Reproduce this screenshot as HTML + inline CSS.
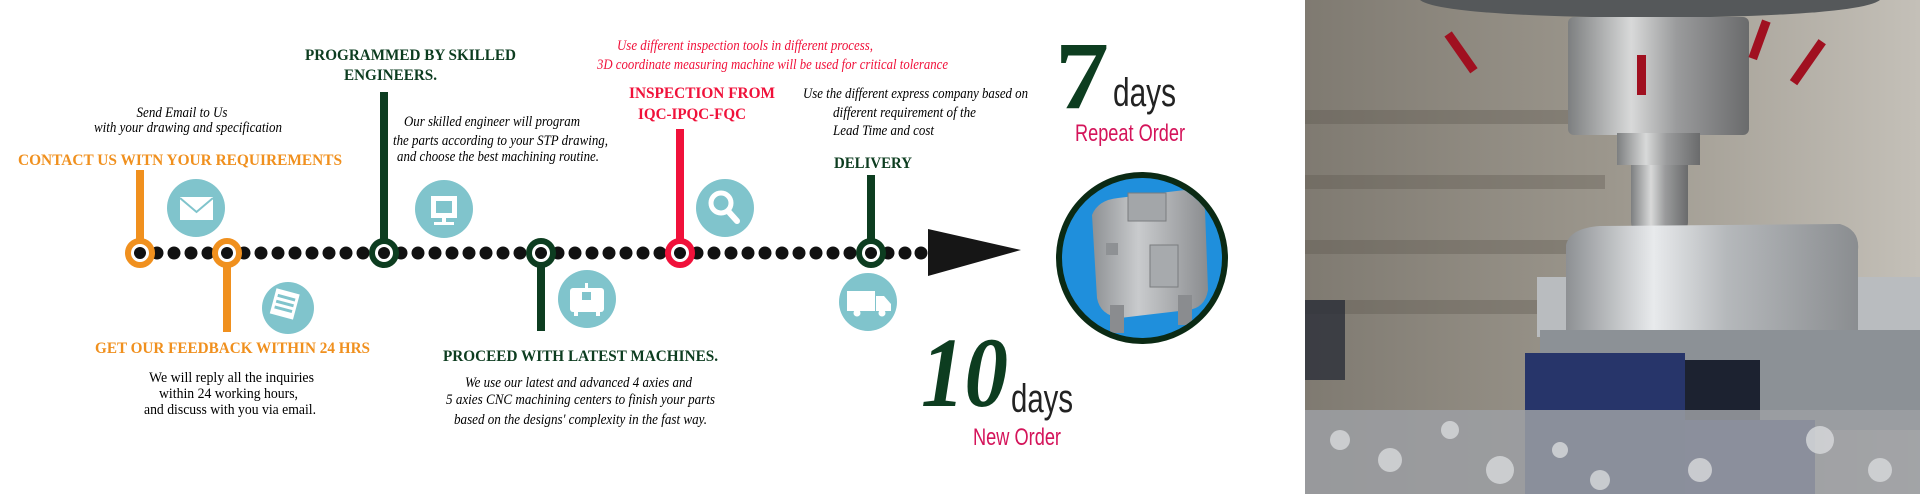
<!DOCTYPE html>
<html><head><meta charset="utf-8"><style>
html,body{margin:0;padding:0;background:#fff;}
svg{display:block;}
.lb{font-family:"Liberation Serif",serif;font-weight:bold;}
.it{font-family:"Liberation Serif",serif;font-style:italic;}
.rm{font-family:"Liberation Serif",serif;}
.sn{font-family:"Liberation Sans",sans-serif;}
</style></head><body>
<svg width="1920" height="494" viewBox="0 0 1920 494" xmlns="http://www.w3.org/2000/svg">
<defs>
<linearGradient id="met" x1="0" x2="1"><stop offset="0" stop-color="#7d7f80"/><stop offset="0.35" stop-color="#d8d9d9"/><stop offset="0.6" stop-color="#9a9b9c"/><stop offset="1" stop-color="#6a6b6c"/></linearGradient>
<linearGradient id="bg" x1="0" x2="1" y1="0" y2="0"><stop offset="0" stop-color="#7f7a71"/><stop offset="0.5" stop-color="#9c978d"/><stop offset="1" stop-color="#c4c0b8"/></linearGradient>
<linearGradient id="alu" x1="0" x2="1"><stop offset="0" stop-color="#8d9093"/><stop offset="0.3" stop-color="#e8eaec"/><stop offset="0.55" stop-color="#b5b8bb"/><stop offset="1" stop-color="#8a8d90"/></linearGradient>
<linearGradient id="motor" x1="0" x2="1"><stop offset="0" stop-color="#8e9194"/><stop offset="0.4" stop-color="#c9cbcd"/><stop offset="1" stop-color="#8a8c8f"/></linearGradient>
<clipPath id="mc"><circle cx="1142" cy="258" r="80"/></clipPath>
</defs>
<rect width="1920" height="494" fill="#fff"/>

<g fill="#111">
<circle cx="157" cy="253" r="6.5"/><circle cx="174" cy="253" r="6.5"/><circle cx="191" cy="253" r="6.5"/><circle cx="208" cy="253" r="6.5"/>
<circle cx="244" cy="253" r="6.5"/><circle cx="261" cy="253" r="6.5"/><circle cx="278" cy="253" r="6.5"/><circle cx="295" cy="253" r="6.5"/><circle cx="312" cy="253" r="6.5"/><circle cx="329" cy="253" r="6.5"/><circle cx="346" cy="253" r="6.5"/><circle cx="363" cy="253" r="6.5"/>
<circle cx="401" cy="253" r="6.5"/><circle cx="418" cy="253" r="6.5"/><circle cx="435" cy="253" r="6.5"/><circle cx="452" cy="253" r="6.5"/><circle cx="469" cy="253" r="6.5"/><circle cx="486" cy="253" r="6.5"/><circle cx="503" cy="253" r="6.5"/><circle cx="520" cy="253" r="6.5"/>
<circle cx="558" cy="253" r="6.5"/><circle cx="575" cy="253" r="6.5"/><circle cx="592" cy="253" r="6.5"/><circle cx="609" cy="253" r="6.5"/><circle cx="626" cy="253" r="6.5"/><circle cx="643" cy="253" r="6.5"/><circle cx="660" cy="253" r="6.5"/>
<circle cx="697" cy="253" r="6.5"/><circle cx="714" cy="253" r="6.5"/><circle cx="731" cy="253" r="6.5"/><circle cx="748" cy="253" r="6.5"/><circle cx="765" cy="253" r="6.5"/><circle cx="782" cy="253" r="6.5"/><circle cx="799" cy="253" r="6.5"/><circle cx="816" cy="253" r="6.5"/><circle cx="833" cy="253" r="6.5"/><circle cx="850" cy="253" r="6.5"/>
<circle cx="888" cy="253" r="6.5"/><circle cx="905" cy="253" r="6.5"/><circle cx="921" cy="253" r="6.5"/>
</g>
<polygon points="928,229 1021,250 928,276" fill="#161616"/>

<rect x="136" y="170" width="8" height="75" fill="#f0901e"/>
<rect x="223" y="260" width="8" height="72" fill="#f0901e"/>
<rect x="380" y="92" width="8" height="152" fill="#0d3d20"/>
<rect x="537" y="260" width="8" height="71" fill="#0d3d20"/>
<rect x="676" y="129" width="8" height="115" fill="#f0113a"/>
<rect x="867" y="175" width="8" height="70" fill="#0d3d20"/>

<g stroke-width="6" fill="#fff">
<circle cx="140" cy="253" r="12" stroke="#f0901e"/>
<circle cx="227" cy="253" r="12" stroke="#f0901e"/>
<circle cx="384" cy="253" r="12" stroke="#0d3d20"/>
<circle cx="541" cy="253" r="12" stroke="#0d3d20"/>
<circle cx="680" cy="253" r="12" stroke="#f0113a"/>
<circle cx="871" cy="253" r="12" stroke="#0d3d20"/>
</g>
<g fill="#111">
<circle cx="140" cy="253" r="6"/><circle cx="227" cy="253" r="6"/><circle cx="384" cy="253" r="6"/><circle cx="541" cy="253" r="6"/><circle cx="680" cy="253" r="6"/><circle cx="871" cy="253" r="6"/>
</g>

<g fill="#80c4cc">
<circle cx="196" cy="208" r="29"/><circle cx="288" cy="308" r="26"/><circle cx="444" cy="209" r="29"/>
<circle cx="587" cy="299" r="29"/><circle cx="725" cy="208" r="29"/><circle cx="868" cy="302" r="29"/>
</g>
<g fill="#fff">
<rect x="180" y="197" width="33" height="23"/>
<polyline points="180,198 196.5,212 213,198" fill="none" stroke="#80c4cc" stroke-width="2"/>
<g transform="rotate(15 285 303)"><rect x="273" y="291" width="24" height="26"/><rect x="276" y="296" width="18" height="3" fill="#80c4cc"/><rect x="276" y="302" width="18" height="3" fill="#80c4cc"/><rect x="276" y="308" width="18" height="3" fill="#80c4cc"/></g>
<rect x="431" y="196" width="26" height="22"/><rect x="436" y="201" width="16" height="12" fill="#80c4cc"/><rect x="442" y="218" width="4" height="5"/><rect x="434" y="222" width="20" height="3"/>
<rect x="570" y="288" width="34" height="24" rx="3"/><rect x="582" y="292" width="9" height="8" fill="#80c4cc"/><rect x="585" y="283" width="3" height="8"/><rect x="574" y="312" width="4" height="4"/><rect x="596" y="312" width="4" height="4"/>
<circle cx="721" cy="203" r="10" fill="none" stroke="#fff" stroke-width="5"/><line x1="728" y1="211" x2="737" y2="221" stroke="#fff" stroke-width="6" stroke-linecap="round"/>
<rect x="847" y="291" width="28" height="20"/><polygon points="876,296 884,296 891,304 891,311 876,311"/><circle cx="857" cy="313" r="3.5"/><circle cx="882" cy="313" r="3.5"/>
</g>

<text class="it" x="182" y="117" font-size="15" text-anchor="middle" textLength="91" lengthAdjust="spacingAndGlyphs">Send Email to Us</text>
<text class="it" x="188" y="132" font-size="15" text-anchor="middle" textLength="188" lengthAdjust="spacingAndGlyphs">with your drawing and specification</text>
<text class="lb" x="18" y="165" font-size="16" fill="#f0901e" textLength="324" lengthAdjust="spacingAndGlyphs">CONTACT US WITN YOUR REQUIREMENTS</text>

<text class="lb" x="305" y="60" font-size="16" fill="#0d3d20" textLength="211" lengthAdjust="spacingAndGlyphs">PROGRAMMED BY SKILLED</text>
<text class="lb" x="344" y="80" font-size="16" fill="#0d3d20" textLength="93" lengthAdjust="spacingAndGlyphs">ENGINEERS.</text>
<text class="it" x="404" y="126" font-size="15" textLength="176" lengthAdjust="spacingAndGlyphs">Our skilled engineer will program</text>
<text class="it" x="393" y="145" font-size="15" textLength="215" lengthAdjust="spacingAndGlyphs">the parts according to your STP drawing,</text>
<text class="it" x="397" y="161" font-size="15" textLength="202" lengthAdjust="spacingAndGlyphs">and choose the best machining routine.</text>

<text class="lb" x="95" y="353" font-size="16" fill="#f0901e" textLength="275" lengthAdjust="spacingAndGlyphs">GET OUR FEEDBACK WITHIN 24 HRS</text>
<text class="rm" x="149" y="382" font-size="15" textLength="165" lengthAdjust="spacingAndGlyphs">We will reply all the inquiries</text>
<text class="rm" x="159" y="398" font-size="15" textLength="139" lengthAdjust="spacingAndGlyphs">within 24 working hours,</text>
<text class="rm" x="144" y="414" font-size="15" textLength="172" lengthAdjust="spacingAndGlyphs">and discuss with you via email.</text>

<text class="lb" x="443" y="361" font-size="16" fill="#0d3d20" textLength="275" lengthAdjust="spacingAndGlyphs">PROCEED WITH LATEST MACHINES.</text>
<text class="it" x="465" y="387" font-size="15" textLength="227" lengthAdjust="spacingAndGlyphs">We use our latest and advanced 4 axies and</text>
<text class="it" x="446" y="404" font-size="15" textLength="269" lengthAdjust="spacingAndGlyphs">5 axies CNC machining centers to finish your parts</text>
<text class="it" x="454" y="424" font-size="15" textLength="253" lengthAdjust="spacingAndGlyphs">based on the designs' complexity in the fast way.</text>

<text class="it" x="617" y="50" font-size="15" fill="#f0113a" textLength="256" lengthAdjust="spacingAndGlyphs">Use different inspection tools in different process,</text>
<text class="it" x="597" y="69" font-size="15" fill="#f0113a" textLength="351" lengthAdjust="spacingAndGlyphs">3D coordinate measuring machine will be used for critical tolerance</text>
<text class="lb" x="629" y="98" font-size="16" fill="#f0113a" textLength="146" lengthAdjust="spacingAndGlyphs">INSPECTION FROM</text>
<text class="lb" x="638" y="119" font-size="16" fill="#f0113a" textLength="108" lengthAdjust="spacingAndGlyphs">IQC-IPQC-FQC</text>

<text class="it" x="803" y="98" font-size="15" textLength="225" lengthAdjust="spacingAndGlyphs">Use the different express company based on</text>
<text class="it" x="833" y="117" font-size="15" textLength="143" lengthAdjust="spacingAndGlyphs">different requirement of the</text>
<text class="it" x="833" y="135" font-size="15" textLength="101" lengthAdjust="spacingAndGlyphs">Lead Time and cost</text>
<text class="lb" x="834" y="168" font-size="16" fill="#0d3d20" textLength="78" lengthAdjust="spacingAndGlyphs">DELIVERY</text>

<text class="lb" x="1055" y="108" font-size="96" fill="#0d3d20" textLength="54" lengthAdjust="spacingAndGlyphs">7</text>
<text class="sn" x="1113" y="106" font-size="40" fill="#222" textLength="63" lengthAdjust="spacingAndGlyphs">days</text>
<text class="sn" x="1075" y="141" font-size="24" fill="#d4145a" textLength="110" lengthAdjust="spacingAndGlyphs">Repeat Order</text>
<text class="lb" x="921" y="406" font-size="100" font-style="italic" fill="#0d3d20" textLength="87" lengthAdjust="spacingAndGlyphs">10</text>
<text class="sn" x="1011" y="412" font-size="40" fill="#222" textLength="62" lengthAdjust="spacingAndGlyphs">days</text>
<text class="sn" x="973" y="445" font-size="24" fill="#d4145a" textLength="88" lengthAdjust="spacingAndGlyphs">New Order</text>

<circle cx="1142" cy="258" r="83" fill="#1f8fdc" stroke="#0b2a14" stroke-width="6"/>
<g clip-path="url(#mc)">
<path d="M1092,215 Q1098,200 1118,198 L1185,190 Q1203,192 1205,210 L1208,290 Q1205,308 1188,310 L1120,318 Q1100,315 1097,298 Z" fill="url(#motor)"/>
<rect x="1128" y="193" width="38" height="28" fill="#a3a6a9" stroke="#7a7c7e"/>
<rect x="1150" y="245" width="28" height="42" fill="#a7aaad" stroke="#7a7c7e"/>
<rect x="1106" y="243" width="12" height="12" fill="#8e9194"/>
<rect x="1110" y="305" width="14" height="28" fill="#8a8c8f"/><rect x="1178" y="295" width="14" height="30" fill="#8a8c8f"/>
</g>

<rect x="1305" y="0" width="615" height="494" fill="url(#bg)"/>
<g opacity="0.35" fill="#5d574e">
<rect x="1305" y="110" width="300" height="14"/><rect x="1305" y="175" width="300" height="14"/><rect x="1305" y="240" width="280" height="14"/><rect x="1305" y="300" width="260" height="14"/>
</g>
<path d="M1420,0 L1880,0 Q1860,16 1650,18 Q1440,16 1420,0 Z" fill="#55585a"/>
<rect x="1568" y="17" width="181" height="118" rx="6" fill="url(#met)"/>
<rect x="1617" y="133" width="83" height="32" fill="url(#met)"/>
<path d="M1631,165 L1688,165 L1688,222 Q1688,236 1660,236 Q1631,236 1631,222 Z" fill="url(#met)"/>
<g fill="#a01020">
<rect x="1455" y="30" width="9" height="45" transform="rotate(-35 1460 50)"/>
<rect x="1637" y="55" width="9" height="40"/>
<rect x="1755" y="20" width="9" height="40" transform="rotate(20 1760 40)"/>
<rect x="1805" y="38" width="9" height="50" transform="rotate(35 1810 60)"/>
</g>
<rect x="1537" y="277" width="383" height="60" fill="#b9bcbf"/>
<path d="M1566,245 Q1570,228 1600,226 L1840,224 Q1860,230 1858,250 L1858,330 L1566,330 Z" fill="url(#alu)"/>
<rect x="1540" y="330" width="380" height="100" fill="#8c9196"/>
<rect x="1680" y="360" width="80" height="60" fill="#1c2230"/>
<rect x="1525" y="353" width="160" height="141" fill="#27356a"/>
<rect x="1685" y="420" width="130" height="74" fill="#2a3a72"/>
<rect x="1305" y="410" width="615" height="84" fill="#9c9fa3" opacity="0.85"/>
<g fill="#d8dadc" opacity="0.8">
<circle cx="1340" cy="440" r="10"/><circle cx="1390" cy="460" r="12"/><circle cx="1450" cy="430" r="9"/><circle cx="1500" cy="470" r="14"/><circle cx="1600" cy="480" r="10"/><circle cx="1700" cy="470" r="12"/><circle cx="1820" cy="440" r="14"/><circle cx="1880" cy="470" r="12"/><circle cx="1560" cy="450" r="8"/>
</g>
<rect x="1305" y="300" width="40" height="80" fill="#2a2e38" opacity="0.8"/>
</svg>
</body></html>
